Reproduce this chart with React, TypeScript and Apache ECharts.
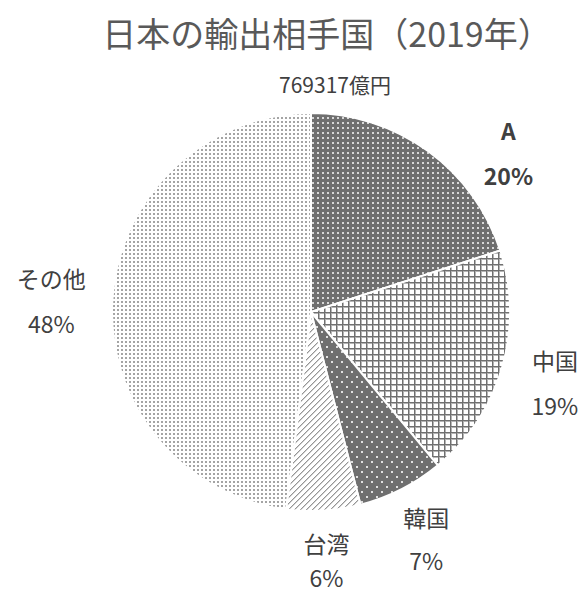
import React, { useEffect, useRef } from "react";
import * as echarts from "echarts";

const titleText = "日本の輸出相手国（2019年）";
const totalText = "769317億円";
const categories = ["A", "中国", "韓国", "台湾", "その他"];
const shares = [20, 19, 7, 6, 48];

function makeTile(size: number, draw: (ctx: CanvasRenderingContext2D) => void) {
  const c = document.createElement("canvas");
  c.width = size;
  c.height = size;
  const ctx = c.getContext("2d")!;
  draw(ctx);
  return c;
}

function patterns() {
  const dark = "#6f6f6f";
  const a = makeTile(5, (ctx) => {
    ctx.fillStyle = dark;
    ctx.fillRect(0, 0, 5, 5);
    ctx.fillStyle = "#d8d8d8";
    ctx.fillRect(2, 2, 2, 2);
  });
  const china = makeTile(6, (ctx) => {
    ctx.fillStyle = "#ffffff";
    ctx.fillRect(0, 0, 6, 6);
    ctx.fillStyle = "#b4b4b4";
    ctx.fillRect(0, 1, 6, 1);
    ctx.fillRect(1, 0, 1, 6);
    ctx.fillStyle = "#707070";
    ctx.fillRect(0, 0, 6, 1);
    ctx.fillRect(0, 0, 1, 6);
  });
  const korea = makeTile(10, (ctx) => {
    ctx.fillStyle = dark;
    ctx.fillRect(0, 0, 10, 10);
    ctx.fillStyle = "#e0e0e0";
    ctx.fillRect(1, 1, 2, 2);
    ctx.fillRect(6, 6, 2, 2);
  });
  const taiwan = makeTile(6, (ctx) => {
    ctx.fillStyle = "#ffffff";
    ctx.fillRect(0, 0, 6, 6);
    for (let i = 0; i < 6; i++) {
      ctx.fillStyle = "#959595";
      ctx.fillRect(i, 5 - i, 1, 1);
      ctx.fillStyle = "#d0d0d0";
      ctx.fillRect(i, (6 - i) % 6, 1, 1);
    }
  });
  const other = makeTile(4, (ctx) => {
    ctx.fillStyle = "#ffffff";
    ctx.fillRect(0, 0, 4, 4);
    ctx.fillStyle = "#a4a4a4";
    ctx.fillRect(1, 1, 2, 2);
  });
  return [a, china, korea, taiwan, other];
}

export default function App() {
  const ref = useRef<HTMLDivElement>(null);
  useEffect(() => {
    document.body.style.margin = "0";
    const chart = echarts.init(ref.current!, undefined, { renderer: "svg" });
    const tiles = patterns();
    const cx = 311;
    const cy = 312;
    const r = 199;
    const total = shares.reduce((s, v) => s + v, 0);
    const angleShift = [15, 0, 0, 0, -1];
    const labelDist = [254, 254, 254, 248, 260];
    const lineHeights = [45, 45, 43, 34, 45];
    const mids: number[] = [];
    let acc = 0;
    shares.forEach((v) => {
      mids.push(((acc + v / 2) / total) * 360);
      acc += v;
    });
    const font = "'Noto Sans CJK JP', 'Noto Sans', sans-serif";
    chart.setOption({
      animation: false,
      backgroundColor: "#ffffff",
      title: [
        {
          text: titleText,
          left: 322,
          top: 10,
          textAlign: "center",
          textStyle: { fontFamily: font, fontSize: 34, fontWeight: "normal", color: "#595959" },
        },
        {
          text: totalText,
          left: 330,
          top: 68,
          textAlign: "center",
          textStyle: { fontFamily: font, fontSize: 21, fontWeight: "normal", color: "#404040" },
        },
      ],
      series: [
        {
          type: "pie",
          center: [cx, cy],
          radius: [0, r],
          startAngle: 90,
          clockwise: true,
          avoidLabelOverlap: false,
          itemStyle: { borderColor: "#ffffff", borderWidth: 2 },
          label: {
            show: true,
            position: "outside",
            fontFamily: font,
            fontSize: 23,
            lineHeight: 45,
            color: "#404040",
            formatter: (p: any) => `${p.name}\n${p.value}%`,
          },
          labelLine: { show: false },
          labelLayout: (p: any) => {
            const i = p.dataIndex;
            const ang = ((mids[i] + angleShift[i]) * Math.PI) / 180;
            return {
              x: cx + labelDist[i] * Math.sin(ang),
              y: cy - labelDist[i] * Math.cos(ang),
              align: "center",
              verticalAlign: "middle",
            };
          },
          emphasis: { disabled: true },
          data: categories.map((name, i) => ({
            name,
            value: shares[i],
            itemStyle: { color: { image: tiles[i], repeat: "repeat" } },
            label: i === 0 ? { fontWeight: "bold", lineHeight: lineHeights[i] } : { lineHeight: lineHeights[i] },
          })),
        },
      ],
    });
    return () => chart.dispose();
  }, []);
  return <div ref={ref} style={{ width: 582, height: 595 }} />;
}
